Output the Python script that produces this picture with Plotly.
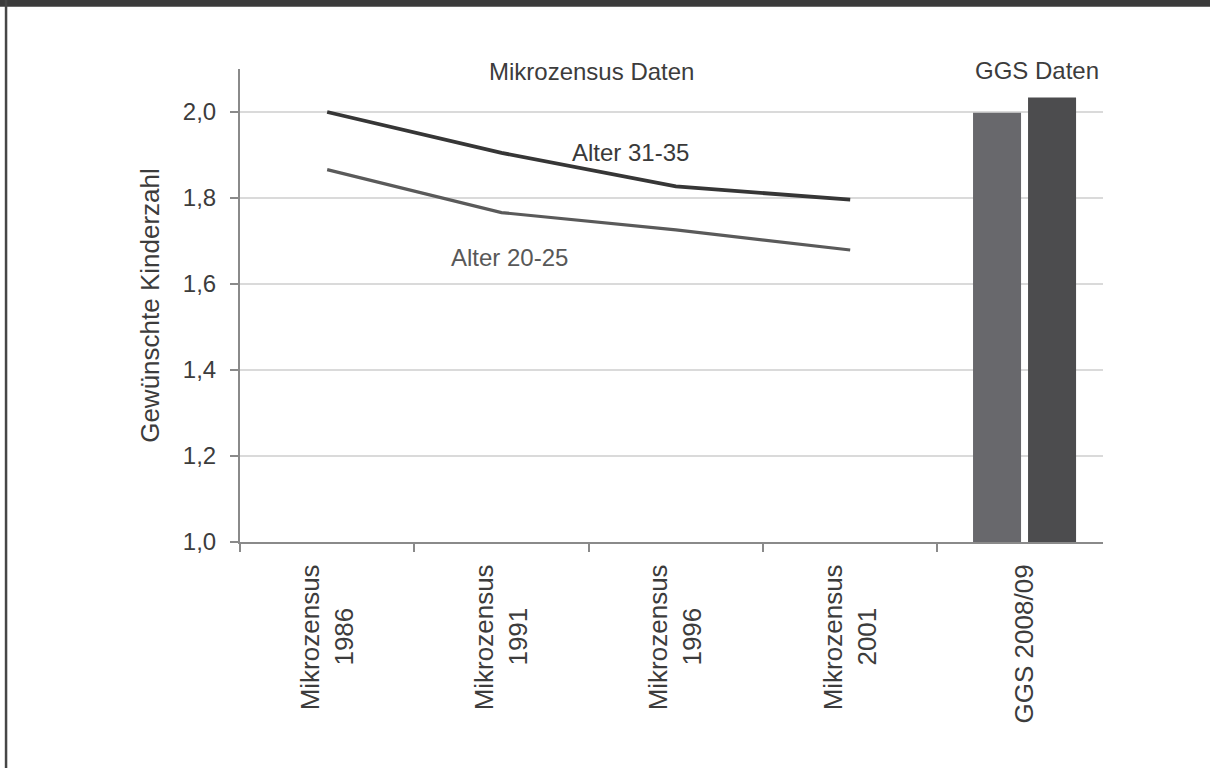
import plotly.graph_objects as go

NB = "\u00a0" * 6  # padding so the year sits centred under "Mikrozensus"
categories = ["Mikrozensus<br>1986" + NB, "Mikrozensus<br>1991" + NB, "Mikrozensus<br>1996" + NB,
              "Mikrozensus<br>2001" + NB, "GGS 2008/09"]
line_cats = categories[:4]
alter_31_35 = [2.000, 1.905, 1.827, 1.796]
alter_20_25 = [1.866, 1.766, 1.726, 1.679]
ggs_cat = [categories[4]]
ggs_bar1 = [1.998]
ggs_bar2 = [2.034]
y_ticks = [1.0, 1.2, 1.4, 1.6, 1.8, 2.0]
y_ticktext = ["1,0", "1,2", "1,4", "1,6", "1,8", "2,0"]

FONT = "Liberation Sans, Arial, sans-serif"
TXT = "#3c3c3c"
FS = 24

fig = go.Figure()
fig.add_trace(go.Bar(x=ggs_cat, y=ggs_bar1, base=0, marker=dict(color="#68686c", line=dict(width=0)),
                     offsetgroup="a", showlegend=False))
fig.add_trace(go.Bar(x=ggs_cat, y=ggs_bar2, base=0, marker=dict(color="#4c4c4e", line=dict(width=0)),
                     offsetgroup="b", showlegend=False))
fig.add_trace(go.Scatter(x=line_cats, y=alter_20_25, mode="lines",
                         line=dict(color="#5a5a5a", width=3.2), showlegend=False))
fig.add_trace(go.Scatter(x=line_cats, y=alter_31_35, mode="lines",
                         line=dict(color="#363636", width=3.8), showlegend=False))

fig.update_layout(
    width=1210, height=768,
    margin=dict(l=240, r=107, t=69, b=226, autoexpand=False),
    paper_bgcolor="white", plot_bgcolor="white",
    barmode="group", bargap=0.369, bargroupgap=0.127,
    font=dict(family=FONT, size=FS, color=TXT),
    showlegend=False,
)
fig.update_xaxes(
    type="category", categoryorder="array", categoryarray=categories,
    range=[-0.5, 4.45], showgrid=False, showline=True, linecolor="#8a8a8a", linewidth=2,
    ticks="outside", tickson="boundaries", ticklen=8, tickwidth=2, tickcolor="#8a8a8a",
    tickangle=-90, tickfont=dict(family=FONT, size=26, color=TXT),
    ticklabelstandoff=10, zeroline=False,
)
fig.update_yaxes(
    range=[1.0, 2.1], tickvals=y_ticks, ticktext=y_ticktext,
    showgrid=True, gridcolor="#dadada", gridwidth=1.5,
    showline=True, linecolor="#8a8a8a", linewidth=2,
    ticks="outside", ticklen=8, tickwidth=2, tickcolor="#8a8a8a",
    tickfont=dict(family=FONT, size=FS, color=TXT), ticklabelstandoff=9,
    title=dict(text="Gewünschte Kinderzahl", font=dict(family=FONT, size=26, color=TXT), standoff=16),
    zeroline=False,
)

fig.add_annotation(x=1.514, y=2.094, xref="x", yref="y", text="Mikrozensus Daten",
                   showarrow=False, font=dict(size=FS, color=TXT), xanchor="center", yanchor="middle")
fig.add_annotation(x=4.07, y=2.096, xref="x", yref="y", text="GGS Daten",
                   showarrow=False, font=dict(size=FS, color=TXT), xanchor="center", yanchor="middle")
fig.add_annotation(x=1.738, y=1.906, xref="x", yref="y", text="Alter 31-35",
                   showarrow=False, font=dict(size=FS, color="#3a3a3a"), xanchor="center", yanchor="middle")
fig.add_annotation(x=1.043, y=1.662, xref="x", yref="y", text="Alter 20-25",
                   showarrow=False, font=dict(size=FS, color="#585858"), xanchor="center", yanchor="middle")

# frame (top bar and left edge)
PW, PH = 863.0, 473.0
def px(xp): return (xp - 240) / PW
def py(yp): return (542 - yp) / PH
fig.add_shape(type="rect", xref="paper", yref="paper", x0=px(-5), x1=px(1215), y0=py(6.8), y1=py(-10),
              fillcolor="#3b3b3b", line=dict(width=0), layer="above")
fig.add_shape(type="rect", xref="paper", yref="paper", x0=px(4.8), x1=px(7.3), y0=py(775), y1=py(0),
              fillcolor="#464646", line=dict(width=0), layer="above")

fig.write_html("out.html", config={"displayModeBar": False},
               post_script="document.body.style.margin='0px';document.body.style.overflow='hidden';")
